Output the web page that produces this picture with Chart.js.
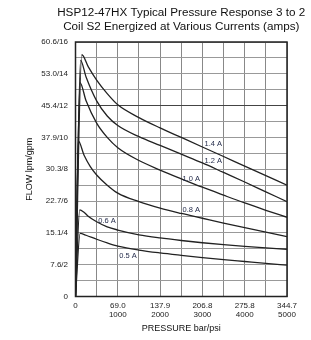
<!DOCTYPE html>
<html lang="en">
<head>
<meta charset="UTF-8" />
<title>HSP12-47HX Typical Pressure Response</title>
<script src="https://cdn.jsdelivr.net/npm/chart.js"></script>
<style>
  html, body { margin: 0; padding: 0; background: #fff; }
</style>
</head>
<body>
<canvas id="chart" width="311" height="340"></canvas>
<script>
  const titleLines = ['HSP12-47HX Typical Pressure Response 3 to 2', 'Coil S2 Energized at Various Currents (amps)'];
  const currents = ['1.4 A', '1.2 A', '1.0 A', '0.8 A', '0.6 A', '0.5 A'];

  // tick labels: flow lpm/gpm every 2 gpm, pressure bar/psi every 1000 psi
  const yTickLabels = ['0', '7.6/2', '15.1/4', '22.7/6', '30.3/8', '37.9/10', '45.4/12', '53.0/14', '60.6/16'];
  const xTickLabels = ['0', ['69.0', '1000'], ['137.9', '2000'], ['206.8', '3000'], ['275.8', '4000'], ['344.7', '5000']];

  // curves (psi, gpm)
  const psi14 = [0, 150, 300, 500, 750, 1000, 1500, 2000, 2500, 3000, 3500, 4000, 4500, 5000];
  const gpm14 = [0, 15.2, 14.45, 13.6, 12.75, 12.05, 11.25, 10.6, 10.0, 9.4, 8.8, 8.2, 7.6, 7.0];
  const psi12 = [0, 120, 250, 500, 750, 1000, 1500, 2000, 2500, 3000, 3500, 4000, 4500, 5000];
  const gpm12 = [0, 14.85, 13.8, 12.3, 11.35, 10.75, 10.05, 9.5, 8.95, 8.4, 7.8, 7.2, 6.58, 5.96];
  const psi10 = [0, 107, 250, 500, 750, 1000, 1500, 2000, 2500, 3000, 3500, 4000, 4500, 5000];
  const gpm10 = [0, 13.45, 12.3, 10.9, 10.0, 9.35, 8.55, 7.95, 7.4, 6.87, 6.37, 5.88, 5.42, 4.98];
  const psi08 = [0, 66, 200, 350, 500, 750, 1000, 1500, 2000, 2500, 3000, 3500, 4000, 4500, 5000];
  const gpm08 = [0, 9.78, 8.9, 8.17, 7.64, 7.0, 6.5, 5.96, 5.55, 5.22, 4.92, 4.62, 4.33, 4.04, 3.76];
  const psi06 = [0, 100, 200, 300, 500, 750, 1000, 1500, 2000, 2500, 3000, 3500, 4000, 4500, 5000];
  const gpm06 = [0, 5.45, 5.3, 5.05, 4.7, 4.38, 4.18, 3.88, 3.68, 3.52, 3.38, 3.26, 3.15, 3.06, 2.97];
  const psi05 = [0, 110, 250, 500, 750, 1000, 1500, 2000, 2500, 3000, 3500, 4000, 4500, 5000];
  const gpm05 = [0, 3.97, 3.85, 3.6, 3.37, 3.17, 2.92, 2.74, 2.59, 2.45, 2.32, 2.2, 2.08, 1.97];

  // where each current label sits (psi, gpm)
  const labelPsi = [3258, 3258, 2737, 2737, 746, 1244];
  const labelGpm = [9.59, 8.55, 7.42, 5.44, 4.72, 2.55];

  const FONT = '"Liberation Sans", Arial, Helvetica, sans-serif';
  const curves = [[psi14, gpm14], [psi12, gpm12], [psi10, gpm10], [psi08, gpm08], [psi06, gpm06], [psi05, gpm05]];

  const frameAndText = {
    id: 'frameAndText',
    afterDatasetsDraw(chart) {
      const { ctx, chartArea: a, scales: { x, y } } = chart;
      ctx.save();
      ctx.strokeStyle = '#222';
      ctx.lineWidth = 1.5;
      ctx.strokeRect(a.left, a.top, a.right - a.left, a.bottom - a.top);

      ctx.textAlign = 'center';
      ctx.textBaseline = 'middle';
      ctx.fillStyle = '#1f2747';
      ctx.font = '7.5px ' + FONT;
      currents.forEach((c, i) => {
        ctx.fillText(c, x.getPixelForValue(labelPsi[i]), y.getPixelForValue(labelGpm[i]));
      });

      ctx.fillStyle = '#111';
      ctx.font = '11.7px ' + FONT;
      const cx = (a.left + a.right) / 2;
      ctx.fillText(titleLines[0], cx, 13);
      ctx.fillText(titleLines[1], cx, 27);
      ctx.restore();
    }
  };

  new Chart(document.getElementById('chart'), {
    type: 'line',
    data: {
      datasets: curves.map((c, i) => ({
        label: currents[i],
        data: c[0].map((p, j) => ({ x: p, y: c[1][j] })),
        borderColor: '#222',
        borderWidth: 1.3,
        pointRadius: 0,
        fill: false,
        cubicInterpolationMode: 'monotone'
      }))
    },
    options: {
      responsive: false,
      animation: false,
      layout: { padding: { top: 42, right: 24, bottom: 0, left: 0 } },
      plugins: { legend: { display: false }, tooltip: { enabled: false }, title: { display: false } },
      scales: {
        x: {
          type: 'linear', min: 0, max: 5000,
          afterFit(s) { s.height = 43.5; },
          border: { display: false },
          grid: { color: '#888', lineWidth: 1, drawTicks: false },
          ticks: {
            stepSize: 500, autoSkip: false, maxRotation: 0, padding: 5, color: '#222',
            font: { family: FONT, size: 8, lineHeight: 1.1 },
            callback: v => (v % 1000 === 0 ? xTickLabels[v / 1000] : '')
          },
          title: { display: true, text: 'PRESSURE bar/psi', color: '#111', font: { family: FONT, size: 9 }, padding: { top: 0, bottom: 5.6 } }
        },
        y: {
          min: 0, max: 16,
          afterFit(s) { s.width = 75.5; },
          border: { display: false },
          grid: { color: c => (c.tick && c.tick.value === 12 ? '#444' : '#999'), lineWidth: 1, drawTicks: false },
          ticks: {
            stepSize: 1, autoSkip: false, padding: 7.5, color: '#222',
            font: { family: FONT, size: 8 },
            callback: v => (v % 2 === 0 ? yTickLabels[v / 2] : '')
          },
          title: { display: true, text: 'FLOW lpm/gpm', color: '#111', font: { family: FONT, size: 9 }, padding: { top: 24, bottom: 0 } }
        }
      }
    },
    plugins: [frameAndText]
  });
</script>
</body>
</html>
